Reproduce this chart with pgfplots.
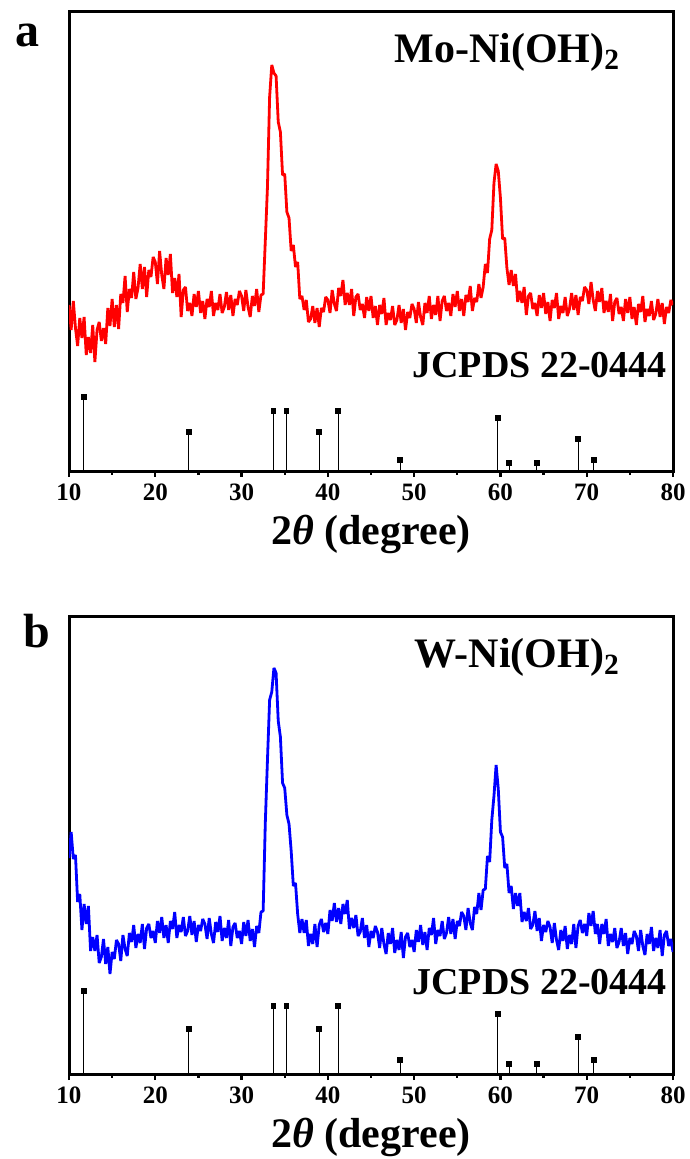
\documentclass[border=0pt]{standalone}
\usepackage{pgfplots}
\pgfplotsset{compat=1.18}
\usepackage{fontspec}
\setmainfont{Liberation Serif}
\begin{document}
\begin{tikzpicture}
\path[use as bounding box] (0,0) rectangle (344.5pt,579.5pt);
\pgfplotsset{
  xrdaxis/.style={
    scale only axis, width=302pt, anchor=south west,
    xmin=10, xmax=80, ymin=0,
    xtick={10,20,...,80}, minor x tick num=1,
    xtick pos=bottom, tick align=outside,
    major tick length=2.5pt, minor tick length=1.5pt,
    ytick=\empty,
    axis line style={line width=1.5pt},
    every tick/.style={line width=1.2pt, black},
    /pgf/number format/assume math mode=true,
    ticklabel style={font=\fontsize{12.5}{14}\selectfont\bfseries},
    xlabel={2\textit{θ} (degree)},
    xlabel style={font=\fontsize{21}{24}\selectfont\bfseries, yshift=0pt},
    clip=true,
  }
}
% ---------- panel a ----------
\begin{axis}[xrdaxis, at={(34.5pt,343.5pt)}, height=230pt, ymax=460]
\addplot[red, line width=1.4pt, line join=bevel] coordinates {
(10,167)(10.25,142)(10.5,171)(10.75,144)(11,126)(11.25,154)(11.5,134)(11.75,155)(12,117)(12.25,135)(12.5,119)(12.75,147)(13,110)(13.25,142)(13.5,150)(13.75,131)(14,144)(14.25,128)(14.5,164)(14.75,146)(15,173)(15.25,145)(15.5,167)(15.75,143)(16,178)(16.25,169)(16.5,196)(16.75,160)(17,183)(17.25,174)(17.5,200)(17.75,173)(18,184)(18.25,208)(18.5,183)(18.75,205)(19,175)(19.25,202)(19.5,195)(19.75,215)(20,210)(20.25,188)(20.5,221)(20.75,197)(21,183)(21.25,214)(21.5,197)(21.75,218)(22,179)(22.25,194)(22.5,175)(22.75,198)(23,155)(23.25,182)(23.5,185)(23.75,161)(24,169)(24.25,156)(24.5,178)(24.75,165)(25,181)(25.25,159)(25.5,171)(25.75,153)(26,173)(26.25,165)(26.5,181)(26.75,156)(27,169)(27.25,162)(27.5,178)(27.75,159)(28,165)(28.25,180)(28.5,162)(28.75,177)(29,156)(29.25,173)(29.5,167)(29.75,181)(30,176)(30.25,161)(30.5,182)(30.75,165)(31,155)(31.25,176)(31.5,166)(31.75,183)(32,160)(32.25,177)(32.5,178)(32.75,231)(33,285)(33.25,375)(33.5,407)(33.75,399)(34,396)(34.25,350)(34.5,340)(34.75,297)(35,298)(35.25,260)(35.5,254)(35.75,221)(36,227)(36.25,205)(36.5,210)(36.75,173)(37,176)(37.25,162)(37.5,172)(37.75,150)(38,153)(38.25,166)(38.5,149)(38.75,164)(39,145)(39.25,164)(39.5,160)(39.75,175)(40,172)(40.25,159)(40.5,182)(40.75,168)(41,161)(41.25,184)(41.5,176)(41.75,192)(42,167)(42.25,179)(42.5,167)(42.75,183)(43,156)(43.25,175)(43.5,178)(43.75,162)(44,168)(44.25,154)(44.5,175)(44.75,161)(45,176)(45.25,154)(45.5,166)(45.75,147)(46,167)(46.25,158)(46.5,174)(46.75,147)(47,159)(47.25,152)(47.5,166)(47.75,147)(48,152)(48.25,167)(48.5,149)(48.75,163)(49,142)(49.25,160)(49.5,154)(49.75,168)(50,163)(50.25,149)(50.5,170)(50.75,155)(51,147)(51.25,169)(51.5,159)(51.75,176)(52,153)(52.25,167)(52.5,157)(52.75,176)(53,151)(53.25,171)(53.5,176)(53.75,161)(54,169)(54.25,156)(54.5,178)(54.75,165)(55,181)(55.25,161)(55.5,173)(55.75,156)(56,177)(56.25,170)(56.5,186)(56.75,161)(57,174)(57.25,170)(57.5,188)(57.75,174)(58,185)(58.25,208)(58.5,199)(58.75,233)(59,242)(59.25,289)(59.5,308)(59.75,301)(60,274)(60.25,233)(60.5,234)(60.75,204)(61,187)(61.25,202)(61.5,186)(61.75,198)(62,170)(62.25,181)(62.5,169)(62.75,185)(63,157)(63.25,176)(63.5,179)(63.75,163)(64,169)(64.25,156)(64.5,177)(64.75,164)(65,179)(65.25,158)(65.5,170)(65.75,151)(66,172)(66.25,164)(66.5,179)(66.75,153)(67,166)(67.25,159)(67.5,175)(67.75,156)(68,163)(68.25,179)(68.5,162)(68.75,177)(69,157)(69.25,175)(69.5,171)(69.75,185)(70,182)(70.25,168)(70.5,190)(70.75,172)(71,161)(71.25,181)(71.5,170)(71.75,184)(72,159)(72.25,171)(72.5,160)(72.75,178)(73,151)(73.25,170)(73.5,174)(73.75,158)(74,165)(74.25,151)(74.5,173)(74.75,159)(75,175)(75.25,153)(75.5,165)(75.75,147)(76,168)(76.25,160)(76.5,176)(76.75,150)(77,163)(77.25,156)(77.5,171)(77.75,152)(78,158)(78.25,173)(78.5,155)(78.75,169)(79,148)(79.25,165)(79.5,159)(79.75,172)(80,167)
};
\addplot[ycomb, black, line width=0.5pt, mark=square*, mark size=1.2pt, mark options={solid}] coordinates {
(11.7,75)(23.9,40)(33.7,61)(35.2,61)(39.0,40)(41.2,61)(48.4,12)(59.7,54)(61.0,9)(64.2,9)(69.0,33)(70.8,12)
};
\end{axis}
% ---------- panel b ----------
\begin{axis}[xrdaxis, at={(34.5pt,42pt)}, height=229pt, ymax=458]
\addplot[blue, line width=1.4pt, line join=bevel] coordinates {
(10,217)(10.25,243)(10.5,216)(10.75,220)(11,173)(11.25,181)(11.5,145)(11.75,171)(12,151)(12.25,169)(12.5,124)(12.75,138)(13,124)(13.25,140)(13.5,112)(13.75,118)(14,136)(14.25,111)(14.5,128)(14.75,101)(15,123)(15.25,116)(15.5,135)(15.75,131)(16,114)(16.25,140)(16.5,126)(16.75,119)(17,142)(17.25,133)(17.5,150)(17.75,127)(18,141)(18.25,132)(18.5,151)(18.75,126)(19,147)(19.25,151)(19.5,137)(19.75,144)(20,132)(20.25,154)(20.5,142)(20.75,158)(21,137)(21.25,150)(21.5,132)(21.75,154)(22,146)(22.25,163)(22.5,137)(22.75,150)(23,143)(23.25,158)(23.5,139)(23.75,144)(24,159)(24.25,140)(24.5,154)(24.75,133)(25,150)(25.25,144)(25.5,156)(25.75,151)(26,136)(26.25,157)(26.5,141)(26.75,132)(27,153)(27.25,143)(27.5,159)(27.75,134)(28,147)(28.25,137)(28.5,155)(28.75,129)(29,148)(29.25,152)(29.5,137)(29.75,144)(30,131)(30.25,153)(30.5,139)(30.75,155)(31,134)(31.25,146)(31.5,128)(31.75,149)(32,142)(32.25,163)(32.5,164)(32.75,252)(33,315)(33.25,375)(33.5,383)(33.75,407)(34,402)(34.25,354)(34.5,338)(34.75,292)(35,287)(35.25,260)(35.5,251)(35.75,224)(36,189)(36.25,192)(36.5,161)(36.75,142)(37,156)(37.25,142)(37.5,155)(37.75,129)(38,141)(38.25,131)(38.5,151)(38.75,128)(39,150)(39.25,156)(39.5,143)(39.75,152)(40,141)(40.25,165)(40.5,154)(40.75,172)(41,153)(41.25,167)(41.5,151)(41.75,171)(42,161)(42.25,175)(42.5,146)(42.75,157)(43,147)(43.25,160)(43.5,139)(43.75,143)(44,157)(44.25,137)(44.5,150)(44.75,128)(45,144)(45.25,137)(45.5,149)(45.75,143)(46,127)(46.25,147)(46.5,131)(46.75,121)(47,142)(47.25,131)(47.5,147)(47.75,122)(48,135)(48.25,125)(48.5,143)(48.75,117)(49,138)(49.25,142)(49.5,128)(49.75,135)(50,123)(50.25,145)(50.5,133)(50.75,150)(51,130)(51.25,143)(51.5,125)(51.75,147)(52,140)(52.25,157)(52.5,131)(52.75,145)(53,139)(53.25,154)(53.5,136)(53.75,142)(54,158)(54.25,141)(54.5,156)(54.75,136)(55,154)(55.25,149)(55.5,163)(55.75,159)(56,145)(56.25,167)(56.5,152)(56.75,145)(57,168)(57.25,161)(57.5,182)(57.75,165)(58,185)(58.25,186)(58.5,219)(58.75,213)(59,255)(59.25,279)(59.5,310)(59.75,286)(60,243)(60.25,238)(60.5,207)(60.75,211)(61,182)(61.25,189)(61.5,166)(61.75,182)(62,169)(62.25,182)(62.5,153)(62.75,163)(63,154)(63.25,167)(63.5,146)(63.75,150)(64,164)(64.25,144)(64.5,157)(64.75,134)(65,150)(65.25,143)(65.5,154)(65.75,148)(66,132)(66.25,152)(66.5,135)(66.75,125)(67,145)(67.25,134)(67.5,149)(67.75,126)(68,140)(68.25,131)(68.5,151)(68.75,127)(69,149)(69.25,155)(69.5,142)(69.75,151)(70,139)(70.25,162)(70.5,149)(70.75,164)(71,141)(71.25,151)(71.5,131)(71.75,151)(72,141)(72.25,156)(72.5,129)(72.75,141)(73,133)(73.25,147)(73.5,127)(73.75,133)(74,147)(74.25,129)(74.5,142)(74.75,121)(75,137)(75.25,131)(75.5,144)(75.75,139)(76,124)(76.25,145)(76.5,129)(76.75,120)(77,141)(77.25,131)(77.5,148)(77.75,124)(78,137)(78.25,127)(78.5,145)(78.75,119)(79,140)(79.25,144)(79.5,129)(79.75,136)(80,123)
};
\addplot[ycomb, black, line width=0.5pt, mark=square*, mark size=1.2pt, mark options={solid}] coordinates {
(11.7,84)(23.9,46)(33.7,69)(35.2,69)(39.0,46)(41.2,69)(48.4,15)(59.7,61)(61.0,11)(64.2,11)(69.0,38)(70.8,15)
};
\end{axis}
% ---------- text labels ----------
\node[anchor=base west, inner sep=0pt, font=\fontsize{24}{28}\selectfont\bfseries] at (7.5pt,556pt) {a};
\node[anchor=base west, inner sep=0pt, font=\fontsize{24}{28}\selectfont\bfseries] at (11.5pt,255.5pt) {b};
\node[anchor=base west, inner sep=0pt, font=\fontsize{21}{24}\selectfont\bfseries] at (197pt,548pt) {Mo-Ni(OH)\textsubscript{2}};
\node[anchor=base west, inner sep=0pt, font=\fontsize{21}{24}\selectfont\bfseries] at (207pt,245.5pt) {W-Ni(OH)\textsubscript{2}};
\node[anchor=base west, inner sep=0pt, font=\fontsize{19}{22}\selectfont\bfseries] at (206pt,390.5pt) {JCPDS 22-0444};
\node[anchor=base west, inner sep=0pt, font=\fontsize{19}{22}\selectfont\bfseries] at (206pt,82pt) {JCPDS 22-0444};
\end{tikzpicture}
\end{document}
